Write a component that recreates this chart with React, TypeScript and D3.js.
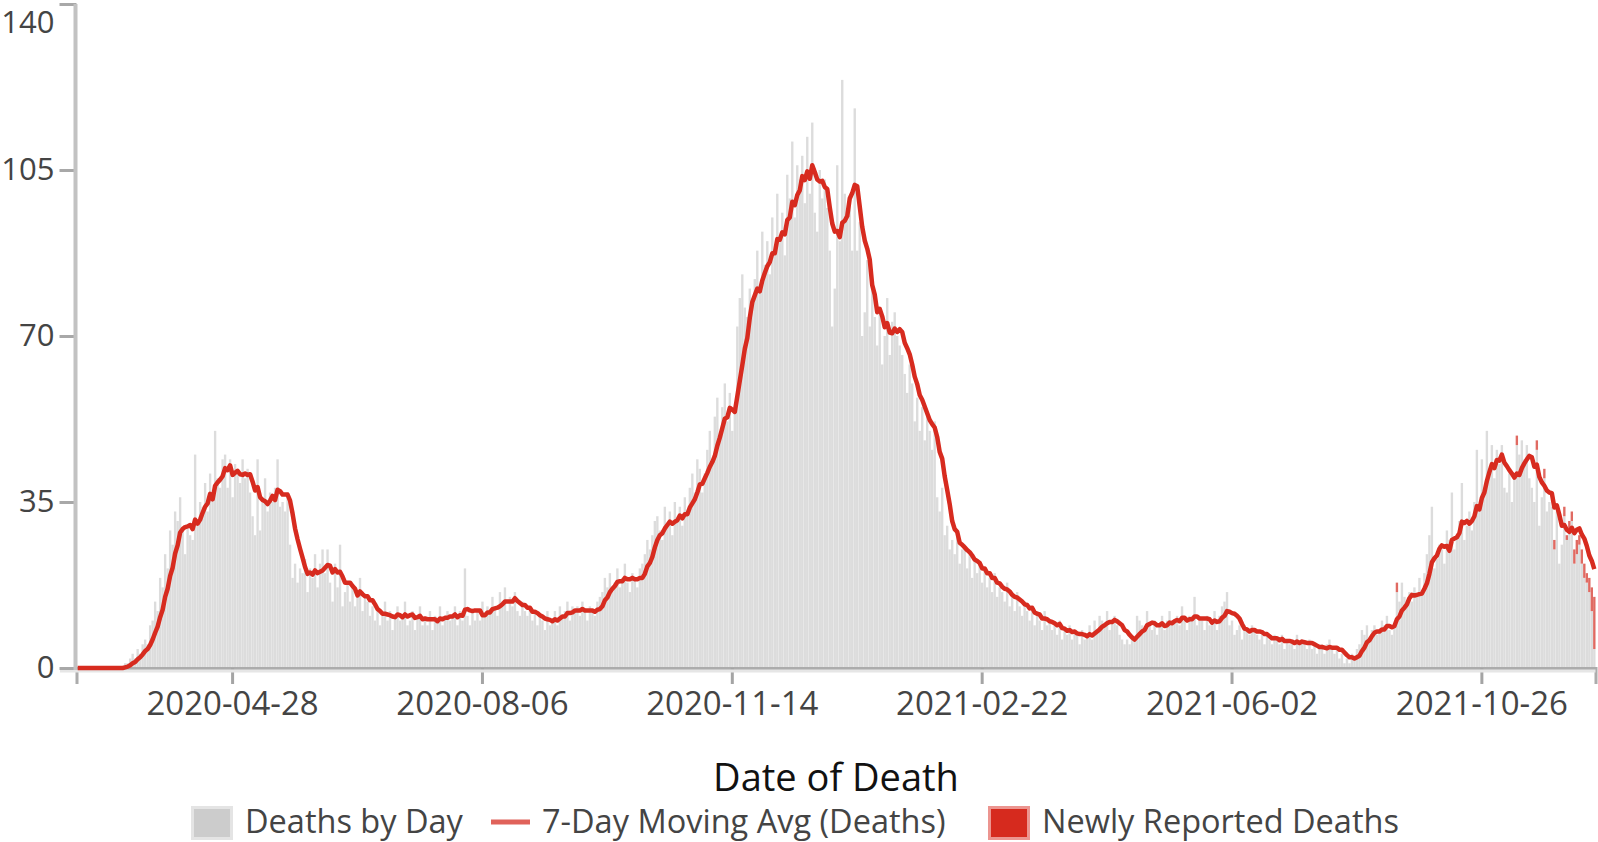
import { useEffect, useRef } from "react";
import * as d3 from "d3";

const W = 1598;
const H = 842;
const FONT = '"Segoe UI", "Open Sans", "Noto Sans", sans-serif';

const START_DATE = "2020-02-26";

// daily deaths (grey bars), one value per day from START_DATE
const DEATHS_BY_DAY = [
    0, 0, 0, 0, 0, 0, 0, 0, 0, 0,
    0, 0, 0, 0, 0, 0, 0, 0, 0, 1,
    1, 2, 3, 2, 4, 3, 5, 6, 5, 9,
    10, 14, 12, 19, 17, 24, 21, 29, 26, 33,
    31, 36, 29, 24, 30, 28, 27, 45, 30, 35,
    34, 39, 33, 41, 37, 50, 40, 38, 44, 45,
    38, 44, 36, 43, 41, 39, 44, 40, 42, 37,
    32, 28, 44, 29, 36, 40, 33, 37, 35, 38,
    44, 34, 35, 33, 37, 26, 19, 22, 18, 21,
    20, 23, 16, 21, 19, 24, 17, 22, 25, 20,
    25, 18, 14, 22, 17, 26, 13, 16, 18, 14,
    17, 13, 16, 19, 12, 15, 14, 11, 13, 10,
    12, 9, 11, 14, 10, 12, 8, 11, 13, 10,
    11, 14, 9, 10, 12, 8, 11, 13, 9, 10,
    9, 12, 8, 11, 10, 13, 9, 11, 12, 10,
    11, 13, 9, 12, 10, 21, 11, 9, 12, 10,
    12, 10, 14, 11, 13, 12, 15, 13, 11, 16,
    14, 17, 12, 15, 13, 16, 12, 11, 14, 12,
    11, 13, 10, 12, 9, 11, 10, 8, 12, 9,
    10, 12, 9, 13, 11, 12, 14, 10, 13, 12,
    13, 11, 14, 12, 10, 13, 12, 11, 14, 15,
    16, 19, 17, 20, 16, 18, 21, 17, 19, 22,
    18, 16, 20, 19, 17, 21, 22, 24, 27, 25,
    28, 31, 32, 29, 27, 34, 30, 33, 28, 35,
    31, 34, 30, 36, 33, 38, 41, 37, 44, 42,
    37, 41, 46, 50, 44, 53, 57, 49, 55, 60,
    52, 58, 50, 54, 72, 78, 83, 76, 74, 80,
    77, 82, 88, 79, 92, 85, 90, 83, 95, 88,
    100, 91, 96, 87, 104, 99, 111, 95, 106, 103,
    108, 98, 112, 100, 115, 96, 92, 105, 99, 103,
    97, 88, 72, 80, 106, 90, 124, 100, 95, 98,
    88, 118, 88, 94, 70, 75, 86, 72, 80, 74,
    68, 75, 64, 70, 78, 66, 73, 75, 70, 68,
    66, 62, 58, 64, 60, 52, 57, 50, 55, 48,
    54, 50, 46, 52, 36, 33, 38, 28, 30, 25,
    27, 24, 29, 22, 25, 26, 21, 24, 19, 23,
    20, 22, 18, 21, 17, 19, 16, 20, 15, 17,
    16, 14, 18, 13, 15, 12, 16, 13, 11, 14,
    12, 10, 13, 9, 11, 10, 8, 12, 9, 10,
    8, 9, 7, 10, 6, 8, 7, 9, 6, 8,
    7, 5, 8, 6, 7, 9, 6, 10, 8, 11,
    10, 9, 12, 8, 10, 11, 9, 7, 6, 5,
    6, 5, 7, 6, 11, 10, 9, 8, 12, 9,
    8, 10, 7, 9, 11, 8, 10, 12, 9, 10,
    11, 9, 13, 10, 8, 11, 10, 15, 9, 10,
    10, 8, 11, 9, 10, 12, 8, 11, 13, 14,
    16, 9, 10, 7, 8, 9, 6, 9, 8, 7,
    9, 8, 7, 6, 8, 5, 7, 6, 5, 7,
    6, 5, 7, 4, 6, 5, 6, 4, 7, 5,
    6, 5, 4, 6, 4, 5, 3, 4, 5, 3,
    5, 6, 4, 3, 4, 2, 3, 1, 2, 1,
    3, 2, 4, 5, 8, 7, 9, 6, 8, 9,
    7, 8, 10, 9, 11, 8, 7, 9, 16, 14,
    18, 15, 13, 16, 14, 17, 15, 19, 16, 20,
    24, 28, 34, 21, 23, 26, 25, 22, 29, 27,
    37, 25, 28, 31, 39, 27, 30, 33, 29, 35,
    46, 34, 44, 38, 50, 42, 47, 40, 46, 43,
    47, 38, 37, 41, 35, 40, 47, 45, 48, 44,
    47, 40, 38, 35, 46, 30, 36, 40, 33, 35,
    34, 25, 33, 22, 26, 32, 27, 29, 31, 22,
    24, 26, 22, 19, 18, 16, 12, 4,
];

// newly reported deaths (red, stacked on top), aligned to the last days
const NEWLY_REPORTED = [
    0, 0, 0, 0, 0, 0, 0, 0, 2, 0,
    0, 0, 0, 0, 0, 0, 0, 0, 0, 0,
    0, 0, 0, 0, 0, 0, 0, 0, 0, 0,
    0, 0, 0, 0, 0, 0, 0, 0, 0, 0,
    0, 0, 0, 0, 0, 0, 0, 0, 0, 0,
    0, 0, 0, 0, 0, 0, 2, 0, 0, 0,
    0, 0, 0, 0, 2, 0, 0, 2, 0, 0,
    0, 2, 0, 0, 0, 2, 1, 2, 2, 3,
    3, 2, 3, 3, 2, 3, 5, 11,
];

const Y_TICKS = [0, 35, 70, 105, 140];
const X_TICK_INDEX = [62, 162, 262, 362, 462, 562];
const X_TICK_LABELS = ["2020-04-28", "2020-08-06", "2020-11-14", "2021-02-22", "2021-06-02", "2021-10-26"];
const X_TITLE = "Date of Death";

const LEGEND = [
    { label: "Deaths by Day", kind: "box", fill: "#cccccc", stroke: "#e4e4e4" },
    { label: "7-Day Moving Avg (Deaths)", kind: "line", fill: "#e0625a", stroke: "#e0625a" },
    { label: "Newly Reported Deaths", kind: "box", fill: "#d62a1e", stroke: "#ec9590" },
];

const BAR_COLOR = "#dcdcdc";
const NEW_COLOR = "#e06a62";
const LINE_COLOR = "#d72b1f";

export default function App() {
    const svgRef = useRef<SVGSVGElement | null>(null);

    useEffect(() => {
        if (!svgRef.current) return;
        const svgRoot = d3.select(svgRef.current);
        svgRoot.selectAll("*").remove();

        const start = d3.timeParse("%Y-%m-%d")(START_DATE) as Date;
        const offset = DEATHS_BY_DAY.length - NEWLY_REPORTED.length;
        const days = DEATHS_BY_DAY.map((v, i) => ({
            i,
            date: d3.timeDay.offset(start, i),
            deaths: v,
            newly: i >= offset ? NEWLY_REPORTED[i - offset] : 0,
        }));
        const avg = days.map((d, i) => ({
            i,
            value: d3.mean(days.slice(Math.max(0, i - 6), i + 1), (e) => e.deaths + e.newly) ?? 0,
        }));

        const left = 76.5;
        const right = 1595.5;
        const top = 4;
        const bottom = 668;

        const x = d3.scaleBand<number>().domain(days.map((d) => d.i)).range([left, right]).paddingInner(0.05);
        const y = d3.scaleLinear().domain([0, 140]).range([bottom, top]);
        const bw = x.bandwidth();
        const cx = (i: number) => (x(i) ?? 0) + bw / 2;

        const svg = svgRoot.attr("width", W).attr("height", H).attr("viewBox", `0 0 ${W} ${H}`);

        // bars
        svg.append("g")
            .selectAll("rect")
            .data(days.filter((d) => d.deaths > 0))
            .enter()
            .append("rect")
            .attr("x", (d) => x(d.i) ?? 0)
            .attr("width", bw)
            .attr("y", (d) => y(d.deaths))
            .attr("height", (d) => y(0) - y(d.deaths))
            .attr("fill", BAR_COLOR);

        svg.append("g")
            .selectAll("rect")
            .data(days.filter((d) => d.newly > 0))
            .enter()
            .append("rect")
            .attr("x", (d) => x(d.i) ?? 0)
            .attr("width", bw)
            .attr("y", (d) => y(d.deaths + d.newly))
            .attr("height", (d) => y(d.deaths) - y(d.deaths + d.newly))
            .attr("fill", NEW_COLOR);

        // x axis
        const xAxis = d3
            .axisBottom(x)
            .tickValues(X_TICK_INDEX)
            .tickFormat((_d, k) => X_TICK_LABELS[k])
            .tickSize(16)
            .tickSizeOuter(16)
            .tickPadding(8);
        const gx = svg.append("g").attr("transform", `translate(0,${bottom})`).call(xAxis);
        gx.select(".domain").attr("stroke", "#acacac").attr("stroke-width", 3);
        gx.selectAll(".tick line").attr("stroke", "#a4a4a4").attr("stroke-width", 3);
        gx.selectAll(".tick text")
            .attr("fill", "#444")
            .style("font-family", FONT)
            .style("font-size", "33px");
        svg.append("line")
            .attr("x1", 60)
            .attr("x2", right)
            .attr("y1", bottom + 3)
            .attr("y2", bottom + 3)
            .attr("stroke", "#e6e6e6")
            .attr("stroke-width", 3);

        // y axis
        const yAxis = d3.axisLeft(y).tickValues(Y_TICKS).tickSize(17).tickPadding(5).tickSizeOuter(0);
        const gy = svg.append("g").attr("transform", `translate(${left},0)`).call(yAxis);
        gy.select(".domain").remove();
        gy.selectAll(".tick line").attr("stroke", "#a8a8a8").attr("stroke-width", 3);
        gy.selectAll<SVGTextElement, number>(".tick text")
            .attr("fill", "#444")
            .style("font-family", FONT)
            .style("font-size", "31px")
            .attr("y", (d) => Math.max(0, 19 - (y(d) - top)));
        svg.append("line")
            .attr("x1", 75.5)
            .attr("x2", 75.5)
            .attr("y1", top)
            .attr("y2", bottom + 2)
            .attr("stroke", "#c2c2c2")
            .attr("stroke-width", 4);

        // moving average line
        const line = d3
            .line<{ i: number; value: number }>()
            .x((d) => cx(d.i))
            .y((d) => y(d.value));
        svg.append("path")
            .datum(avg)
            .attr("fill", "none")
            .attr("stroke", LINE_COLOR)
            .attr("stroke-width", 4.5)
            .attr("stroke-linejoin", "round")
            .attr("d", line);

        // axis title
        svg.append("text")
            .attr("x", (left + right) / 2)
            .attr("y", 791)
            .attr("text-anchor", "middle")
            .attr("fill", "#111")
            .style("font-family", FONT)
            .style("font-size", "38px")
            .text(X_TITLE);

        // legend
        const legendX = [191, 491, 988];
        const lg = svg.append("g");
        LEGEND.forEach((item, k) => {
            const g = lg.append("g").attr("transform", `translate(${legendX[k]},0)`);
            if (item.kind === "box") {
                g.append("rect")
                    .attr("x", 1.5)
                    .attr("y", 807.5)
                    .attr("width", 39)
                    .attr("height", 31)
                    .attr("fill", item.fill)
                    .attr("stroke", item.stroke)
                    .attr("stroke-width", 3);
            } else {
                g.append("line")
                    .attr("x1", 0)
                    .attr("x2", 39)
                    .attr("y1", 822)
                    .attr("y2", 822)
                    .attr("stroke", item.stroke)
                    .attr("stroke-width", 5);
            }
            g.append("text")
                .attr("x", item.kind === "box" ? 54 : 51)
                .attr("y", 833)
                .attr("fill", "#444")
                .style("font-family", FONT)
                .style("font-size", "32.5px")
                .text(item.label);
        });
    }, []);

    return (
        <div style={{ position: "fixed", left: 0, top: 0, width: W, height: H, background: "#fff" }}>
            <svg ref={svgRef} width={W} height={H} style={{ display: "block" }} />
        </div>
    );
}
